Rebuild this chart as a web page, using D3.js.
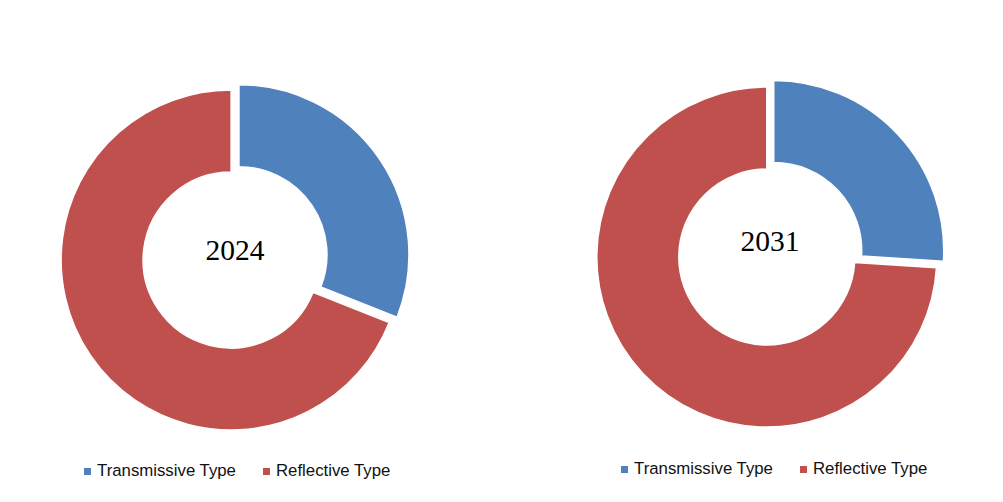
<!DOCTYPE html>
<html>
<head>
<meta charset="utf-8">
<script src="https://cdn.jsdelivr.net/npm/d3@7"></script>
<style>
  html, body { margin: 0; padding: 0; background: #fff; }
  svg { display: block; }
</style>
</head>
<body>
<svg id="chart" width="1003" height="502"></svg>
<script>
// ---- data ----
const categories = ["Transmissive Type", "Reflective Type"];
const years = ["2024", "2031"];
const values2024 = [31, 69];
const values2031 = [26, 74];
const colors = ["#4F81BD", "#C0504D"];

const svg = d3.select("#chart");

const color = d3.scaleOrdinal().domain(categories).range(colors);

const charts = [
  { year: years[0], values: values2024, cx: 234, cy: 258, explode: [6, 3.5], textY: 260, legendX: 84, legendY: 476 },
  { year: years[1], values: values2031, cx: 769, cy: 255, explode: [6.5, 3], textY: 251, legendX: 621, legendY: 474 }
];

const outerR = 170, innerR = 88;
const arc = d3.arc().innerRadius(innerR).outerRadius(outerR);
const pie = d3.pie().sort(null).value(d => d.v);

charts.forEach(c => {
  const g = svg.append("g").attr("transform", `translate(${c.cx},${c.cy})`);
  const data = pie(categories.map((k, i) => ({ k, v: c.values[i], i })));
  g.selectAll("path")
    .data(data)
    .join("path")
    .attr("d", arc)
    .attr("fill", d => color(d.data.k))
    .attr("stroke", "#fff")
    .attr("stroke-width", 1.5)
    .attr("transform", d => {
      const a = (d.startAngle + d.endAngle) / 2;
      const e = c.explode[d.data.i];
      return `translate(${Math.sin(a) * e},${-Math.cos(a) * e})`;
    });

  svg.append("text")
    .attr("x", c.cx + 1)
    .attr("y", c.textY)
    .attr("text-anchor", "middle")
    .attr("font-family", "'Liberation Serif', 'DejaVu Serif', serif")
    .attr("font-size", 29.5)
    .attr("fill", "#000")
    .text(c.year);

  // legend
  const lg = svg.append("g").attr("transform", `translate(${c.legendX},${c.legendY})`);
  const offsets = [0, 179];
  categories.forEach((k, i) => {
    const item = lg.append("g").attr("transform", `translate(${offsets[i]},0)`);
    item.append("rect")
      .attr("x", 0).attr("y", -8)
      .attr("width", 7).attr("height", 7)
      .attr("fill", color(k));
    item.append("text")
      .attr("x", 13).attr("y", 0)
      .attr("font-family", "'Liberation Sans', Arial, sans-serif")
      .attr("font-size", 16.8)
      .attr("fill", "#111")
      .text(k);
  });
});
</script>
</body>
</html>
